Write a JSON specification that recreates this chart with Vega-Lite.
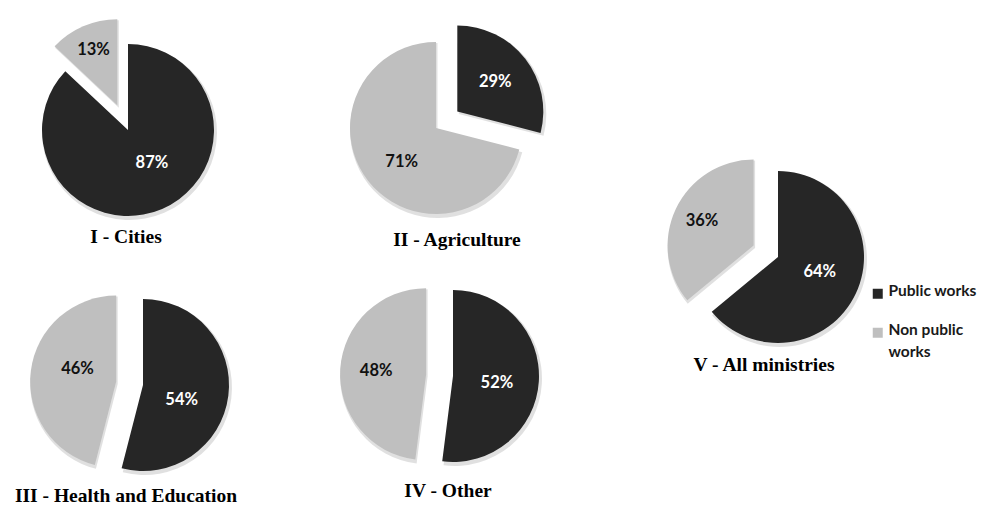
{
  "$schema": "https://vega.github.io/schema/vega-lite/v6.json",
  "background": "white",
  "padding": 0,
  "spacing": 0,
  "config": {
    "view": {"stroke": null},
    "arc": {"radius": 86},
    "text": {"font": "Lato", "fontWeight": "bold", "fontSize": 16.5},
    "title": {"font": "Liberation Serif", "fontSize": 19.5, "fontWeight": "bold", "color": "#000000", "orient": "bottom", "baseline": "alphabetic", "anchor": "middle"}
  },
  "hconcat": [
    {
      "spacing": 0,
      "vconcat": [
        {
          "width": 256, "height": 260,
          "title": {"text": "I - Cities", "offset": -32.5, "dx": -2},
          "data": {"values": [{"type": "Public works", "share": 0.87}, {"type": "Non public works", "share": 0.13}]},
          "encoding": {
            "theta": {"field": "share", "type": "quantitative", "stack": true},
            "order": {"field": "type", "sort": "descending"}
          },
          "layer": [
            {"mark": {"type": "arc", "radius": 87.5, "xOffset": 1.5, "yOffset": 2.5}, "encoding": {
              "color": {"value": "#000000"},
              "opacity": {"condition": {"test": "datum.type === 'Non public works'", "value": 0}, "value": 0.12}}},
            {"mark": {"type": "arc", "radius": 87.5, "xOffset": -9.2, "yOffset": -22.3}, "encoding": {
              "color": {"value": "#000000"},
              "opacity": {"condition": {"test": "datum.type === 'Non public works'", "value": 0.12}, "value": 0}}},
            {"mark": {"type": "arc"}, "encoding": {
              "color": {"field": "type", "type": "nominal", "scale": {"domain": ["Public works", "Non public works"], "range": ["#262626", "#bfbfbf"]}, "legend": {"orient": "none", "legendX": 870, "legendY": 286, "title": null, "symbolType": "square", "symbolSize": 100, "symbolStrokeWidth": 0, "symbolOpacity": 1, "labelFont": "Lato", "labelFontSize": 15.5, "labelFontWeight": "bold", "labelColor": "#1a1a1a", "labelOffset": 3, "rowPadding": 22, "padding": 0, "labelLimit": 0, "labelBaseline": "alphabetic", "labelExpr": "datum.label === 'Non public works' ? ['Non public', 'works'] : datum.label", "encode": {"labels": {"update": {"lineHeight": {"value": 22}, "dy": {"value": 2}}}}}},
              "opacity": {"condition": {"test": "datum.type === 'Non public works'", "value": 0}, "value": 1}}},
            {"mark": {"type": "arc", "xOffset": -10.7, "yOffset": -24.8}, "encoding": {
              "color": {"field": "type", "type": "nominal"},
              "opacity": {"condition": {"test": "datum.type === 'Non public works'", "value": 1}, "value": 0}}},
            {"mark": {"type": "text", "radius": 40, "dx": 8, "dy": -4}, "encoding": {
              "text": {"field": "share", "type": "quantitative", "format": ".0%"},
              "color": {"value": "#ffffff"},
              "opacity": {"condition": {"test": "datum.type === 'Public works'", "value": 1}, "value": 0}}},
            {"mark": {"type": "text", "radius": 60, "xOffset": -10.7, "yOffset": -24.8}, "encoding": {
              "text": {"field": "share", "type": "quantitative", "format": ".0%"},
              "color": {"value": "#111111"},
              "opacity": {"condition": {"test": "datum.type === 'Non public works'", "value": 1}, "value": 0}}}
          ]
        },
        {
          "width": 286, "height": 250,
          "title": {"text": "III - Health and Education", "offset": -22.8, "dx": -17},
          "data": {"values": [{"type": "Public works", "share": 0.54}, {"type": "Non public works", "share": 0.46}]},
          "encoding": {
            "theta": {"field": "share", "type": "quantitative", "stack": true},
            "order": {"field": "type", "sort": "descending"}
          },
          "layer": [
            {"mark": {"type": "arc", "radius": 87.5, "xOffset": 1.5, "yOffset": 2.5}, "encoding": {
              "color": {"value": "#000000"},
              "opacity": {"condition": {"test": "datum.type === 'Non public works'", "value": 0}, "value": 0.12}}},
            {"mark": {"type": "arc", "radius": 87.5, "xOffset": -25.3, "yOffset": -0.9}, "encoding": {
              "color": {"value": "#000000"},
              "opacity": {"condition": {"test": "datum.type === 'Non public works'", "value": 0.12}, "value": 0}}},
            {"mark": {"type": "arc"}, "encoding": {
              "color": {"field": "type", "type": "nominal"},
              "opacity": {"condition": {"test": "datum.type === 'Non public works'", "value": 0}, "value": 1}}},
            {"mark": {"type": "arc", "xOffset": -26.8, "yOffset": -3.4}, "encoding": {
              "color": {"field": "type", "type": "nominal"},
              "opacity": {"condition": {"test": "datum.type === 'Non public works'", "value": 1}, "value": 0}}},
            {"mark": {"type": "text", "radius": 39, "dy": 10}, "encoding": {
              "text": {"field": "share", "type": "quantitative", "format": ".0%"},
              "color": {"value": "#ffffff"},
              "opacity": {"condition": {"test": "datum.type === 'Public works'", "value": 1}, "value": 0}}},
            {"mark": {"type": "text", "radius": 39, "dy": -8, "xOffset": -26.8, "yOffset": -3.4}, "encoding": {
              "text": {"field": "share", "type": "quantitative", "format": ".0%"},
              "color": {"value": "#111111"},
              "opacity": {"condition": {"test": "datum.type === 'Non public works'", "value": 1}, "value": 0}}}
          ]
        }
      ]
    },
    {
      "spacing": 0,
      "vconcat": [
        {
          "width": 300, "height": 256,
          "title": {"text": "II - Agriculture", "offset": -24.8, "dx": 21},
          "data": {"values": [{"type": "Public works", "share": 0.29}, {"type": "Non public works", "share": 0.71}]},
          "encoding": {
            "theta": {"field": "share", "type": "quantitative", "stack": true},
            "order": {"field": "type", "sort": "descending"}
          },
          "layer": [
            {"mark": {"type": "arc", "radius": 87.5, "xOffset": 1.5, "yOffset": 2.5}, "encoding": {
              "color": {"value": "#000000"},
              "opacity": {"condition": {"test": "datum.type === 'Public works'", "value": 0}, "value": 0.12}}},
            {"mark": {"type": "arc", "radius": 87.5, "xOffset": 22.8, "yOffset": -14}, "encoding": {
              "color": {"value": "#000000"},
              "opacity": {"condition": {"test": "datum.type === 'Public works'", "value": 0.12}, "value": 0}}},
            {"mark": {"type": "arc"}, "encoding": {
              "color": {"field": "type", "type": "nominal"},
              "opacity": {"condition": {"test": "datum.type === 'Public works'", "value": 0}, "value": 1}}},
            {"mark": {"type": "arc", "xOffset": 21.3, "yOffset": -16.5}, "encoding": {
              "color": {"field": "type", "type": "nominal"},
              "opacity": {"condition": {"test": "datum.type === 'Public works'", "value": 1}, "value": 0}}},
            {"mark": {"type": "text", "radius": 48, "xOffset": 21.3, "yOffset": -16.5}, "encoding": {
              "text": {"field": "share", "type": "quantitative", "format": ".0%"},
              "color": {"value": "#ffffff"},
              "opacity": {"condition": {"test": "datum.type === 'Public works'", "value": 1}, "value": 0}}},
            {"mark": {"type": "text", "radius": 48, "dx": 3.6, "dy": 5}, "encoding": {
              "text": {"field": "share", "type": "quantitative", "format": ".0%"},
              "color": {"value": "#111111"},
              "opacity": {"condition": {"test": "datum.type === 'Non public works'", "value": 1}, "value": 0}}}
          ]
        },
        {
          "width": 334, "height": 240,
          "title": {"text": "IV - Other", "offset": -14.5, "dx": -5},
          "data": {"values": [{"type": "Public works", "share": 0.52}, {"type": "Non public works", "share": 0.48}]},
          "encoding": {
            "theta": {"field": "share", "type": "quantitative", "stack": true},
            "order": {"field": "type", "sort": "descending"}
          },
          "layer": [
            {"mark": {"type": "arc", "radius": 87.5, "xOffset": 1.5, "yOffset": 2.5}, "encoding": {
              "color": {"value": "#000000"},
              "opacity": {"condition": {"test": "datum.type === 'Non public works'", "value": 0}, "value": 0.12}}},
            {"mark": {"type": "arc", "radius": 87.5, "xOffset": -25.4, "yOffset": 0.8}, "encoding": {
              "color": {"value": "#000000"},
              "opacity": {"condition": {"test": "datum.type === 'Non public works'", "value": 0.12}, "value": 0}}},
            {"mark": {"type": "arc"}, "encoding": {
              "color": {"field": "type", "type": "nominal"},
              "opacity": {"condition": {"test": "datum.type === 'Non public works'", "value": 0}, "value": 1}}},
            {"mark": {"type": "arc", "xOffset": -26.9, "yOffset": -1.7}, "encoding": {
              "color": {"field": "type", "type": "nominal"},
              "opacity": {"condition": {"test": "datum.type === 'Non public works'", "value": 1}, "value": 0}}},
            {"mark": {"type": "text", "radius": 44, "dy": 4.5}, "encoding": {
              "text": {"field": "share", "type": "quantitative", "format": ".0%"},
              "color": {"value": "#ffffff"},
              "opacity": {"condition": {"test": "datum.type === 'Public works'", "value": 1}, "value": 0}}},
            {"mark": {"type": "text", "radius": 50, "xOffset": -26.9, "yOffset": -1.7}, "encoding": {
              "text": {"field": "share", "type": "quantitative", "format": ".0%"},
              "color": {"value": "#111111"},
              "opacity": {"condition": {"test": "datum.type === 'Non public works'", "value": 1}, "value": 0}}}
          ]
        }
      ]
    },
    {
      "width": 316, "height": 514,
      "title": {"text": "V - All ministries", "offset": -158.5, "dx": -14},
      "data": {"values": [{"type": "Public works", "share": 0.64}, {"type": "Non public works", "share": 0.36}]},
      "encoding": {
        "theta": {"field": "share", "type": "quantitative", "stack": true},
        "order": {"field": "type", "sort": "descending"}
      },
      "layer": [
        {"mark": {"type": "arc", "radius": 87.5, "xOffset": 1.5, "yOffset": 2.5}, "encoding": {
          "color": {"value": "#000000"},
          "opacity": {"condition": {"test": "datum.type === 'Non public works'", "value": 0}, "value": 0.12}}},
        {"mark": {"type": "arc", "radius": 87.5, "xOffset": -22.9, "yOffset": -9}, "encoding": {
          "color": {"value": "#000000"},
          "opacity": {"condition": {"test": "datum.type === 'Non public works'", "value": 0.12}, "value": 0}}},
        {"mark": {"type": "arc"}, "encoding": {
          "color": {"field": "type", "type": "nominal"},
          "opacity": {"condition": {"test": "datum.type === 'Non public works'", "value": 0}, "value": 1}}},
        {"mark": {"type": "arc", "xOffset": -24.4, "yOffset": -11.5}, "encoding": {
          "color": {"field": "type", "type": "nominal"},
          "opacity": {"condition": {"test": "datum.type === 'Non public works'", "value": 1}, "value": 0}}},
        {"mark": {"type": "text", "radius": 44, "dy": -4, "dx": 2}, "encoding": {
          "text": {"field": "share", "type": "quantitative", "format": ".0%"},
          "color": {"value": "#ffffff"},
          "opacity": {"condition": {"test": "datum.type === 'Public works'", "value": 1}, "value": 0}}},
        {"mark": {"type": "text", "radius": 57, "xOffset": -24.4, "yOffset": -11.5}, "encoding": {
          "text": {"field": "share", "type": "quantitative", "format": ".0%"},
          "color": {"value": "#111111"},
          "opacity": {"condition": {"test": "datum.type === 'Non public works'", "value": 1}, "value": 0}}}
      ]
    }
  ]
}
